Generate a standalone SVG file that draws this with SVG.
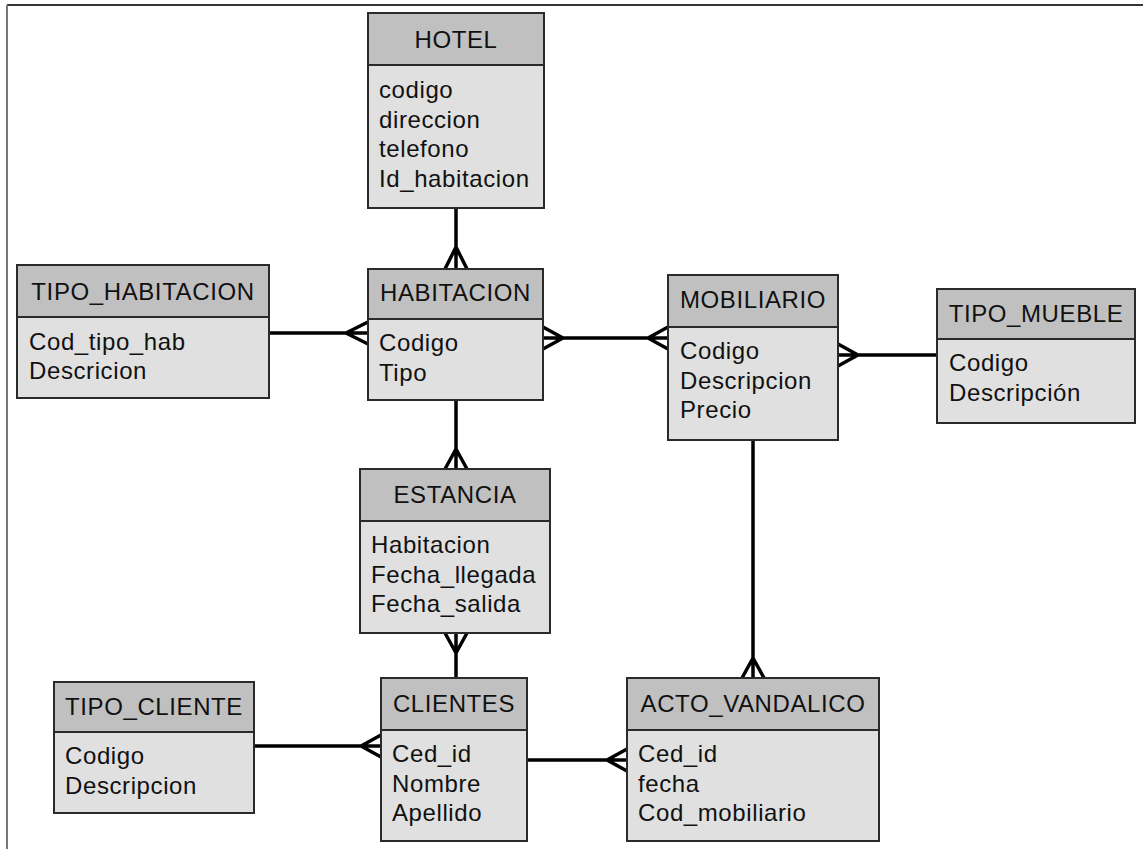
<svg xmlns="http://www.w3.org/2000/svg" width="1143" height="849" viewBox="0 0 1143 849">
<style>
.hdr{fill:#c0c0c0;stroke:#2a2a2a;stroke-width:2}
.body{fill:#e0e0e0;stroke:#2a2a2a;stroke-width:2}
.t{font-family:"Liberation Sans",Arial,sans-serif;font-size:24px;letter-spacing:0.6px;fill:#111}
.ttl{text-anchor:middle}
.c{stroke:#000;stroke-width:3.5;fill:none;stroke-linecap:round;stroke-linejoin:round}
</style>
<rect width="1143" height="849" fill="#fff"/>
<line x1="7" y1="5" x2="1143" y2="5" stroke="#333" stroke-width="2"/>
<line x1="7" y1="5" x2="7" y2="849" stroke="#777" stroke-width="2"/>

<g id="connectors">
<!-- HOTEL - HABITACION -->
<path class="c" d="M456 208V269M445 269L456 247L467 269M456 247V269"/>
<!-- TIPO_HABITACION - HABITACION -->
<path class="c" d="M269 333H368M368 322L346 333L368 344"/>
<!-- HABITACION - MOBILIARIO -->
<path class="c" d="M543 338H668M543 327L563 338L543 349M668 327L648 338L668 349"/>
<!-- MOBILIARIO - TIPO_MUEBLE -->
<path class="c" d="M838 355H937M838 344L858 355L838 366"/>
<!-- HABITACION - ESTANCIA -->
<path class="c" d="M456 400V469M445 469L456 449L467 469"/>
<!-- ESTANCIA - CLIENTES -->
<path class="c" d="M456 633V678M445 633L456 653L467 633"/>
<!-- TIPO_CLIENTE - CLIENTES -->
<path class="c" d="M254 746H381M381 735L361 746L381 757"/>
<!-- CLIENTES - ACTO_VANDALICO -->
<path class="c" d="M527 760H627M627 749L607 760L627 771"/>
<!-- MOBILIARIO - ACTO_VANDALICO -->
<path class="c" d="M753 440V678M742 678L753 658L764 678"/>
</g>

<g id="hotel">
<rect class="body" x="368" y="13" width="176" height="195"/>
<rect class="hdr" x="368" y="13" width="176" height="52"/>
<text class="t ttl" x="456" y="48">HOTEL</text>
<text class="t" x="379" y="98">codigo</text>
<text class="t" x="379" y="127.5">direccion</text>
<text class="t" x="379" y="157">telefono</text>
<text class="t" x="379" y="186.5">Id_habitacion</text>
</g>

<g id="tipo_habitacion">
<rect class="body" x="17" y="265" width="252" height="133"/>
<rect class="hdr" x="17" y="265" width="252" height="52"/>
<text class="t ttl" x="143" y="300">TIPO_HABITACION</text>
<text class="t" x="29" y="350">Cod_tipo_hab</text>
<text class="t" x="29" y="379">Descricion</text>
</g>

<g id="habitacion">
<rect class="body" x="368" y="269" width="175" height="131"/>
<rect class="hdr" x="368" y="269" width="175" height="50"/>
<text class="t ttl" x="455.5" y="301">HABITACION</text>
<text class="t" x="379" y="351">Codigo</text>
<text class="t" x="379" y="380.5">Tipo</text>
</g>

<g id="mobiliario">
<rect class="body" x="668" y="275" width="170" height="165"/>
<rect class="hdr" x="668" y="275" width="170" height="52"/>
<text class="t ttl" x="753" y="308">MOBILIARIO</text>
<text class="t" x="680" y="359">Codigo</text>
<text class="t" x="680" y="388.5">Descripcion</text>
<text class="t" x="680" y="418">Precio</text>
</g>

<g id="tipo_mueble">
<rect class="body" x="937" y="289" width="198" height="134"/>
<rect class="hdr" x="937" y="289" width="198" height="50"/>
<text class="t ttl" x="1036" y="322">TIPO_MUEBLE</text>
<text class="t" x="949" y="371">Codigo</text>
<text class="t" x="949" y="400.5">Descripción</text>
</g>

<g id="estancia">
<rect class="body" x="360" y="469" width="190" height="164"/>
<rect class="hdr" x="360" y="469" width="190" height="52"/>
<text class="t ttl" x="455" y="503">ESTANCIA</text>
<text class="t" x="371" y="553">Habitacion</text>
<text class="t" x="371" y="582.5">Fecha_llegada</text>
<text class="t" x="371" y="612">Fecha_salida</text>
</g>

<g id="tipo_cliente">
<rect class="body" x="54" y="682" width="200" height="131"/>
<rect class="hdr" x="54" y="682" width="200" height="50"/>
<text class="t ttl" x="154" y="715">TIPO_CLIENTE</text>
<text class="t" x="65" y="764">Codigo</text>
<text class="t" x="65" y="793.5">Descripcion</text>
</g>

<g id="clientes">
<rect class="body" x="381" y="678" width="146" height="163"/>
<rect class="hdr" x="381" y="678" width="146" height="52"/>
<text class="t ttl" x="454" y="712">CLIENTES</text>
<text class="t" x="392" y="762">Ced_id</text>
<text class="t" x="392" y="791.5">Nombre</text>
<text class="t" x="392" y="821">Apellido</text>
</g>

<g id="acto_vandalico">
<rect class="body" x="627" y="678" width="252" height="163"/>
<rect class="hdr" x="627" y="678" width="252" height="52"/>
<text class="t ttl" x="753" y="712">ACTO_VANDALICO</text>
<text class="t" x="638" y="762">Ced_id</text>
<text class="t" x="638" y="791.5">fecha</text>
<text class="t" x="638" y="821">Cod_mobiliario</text>
</g>
</svg>
